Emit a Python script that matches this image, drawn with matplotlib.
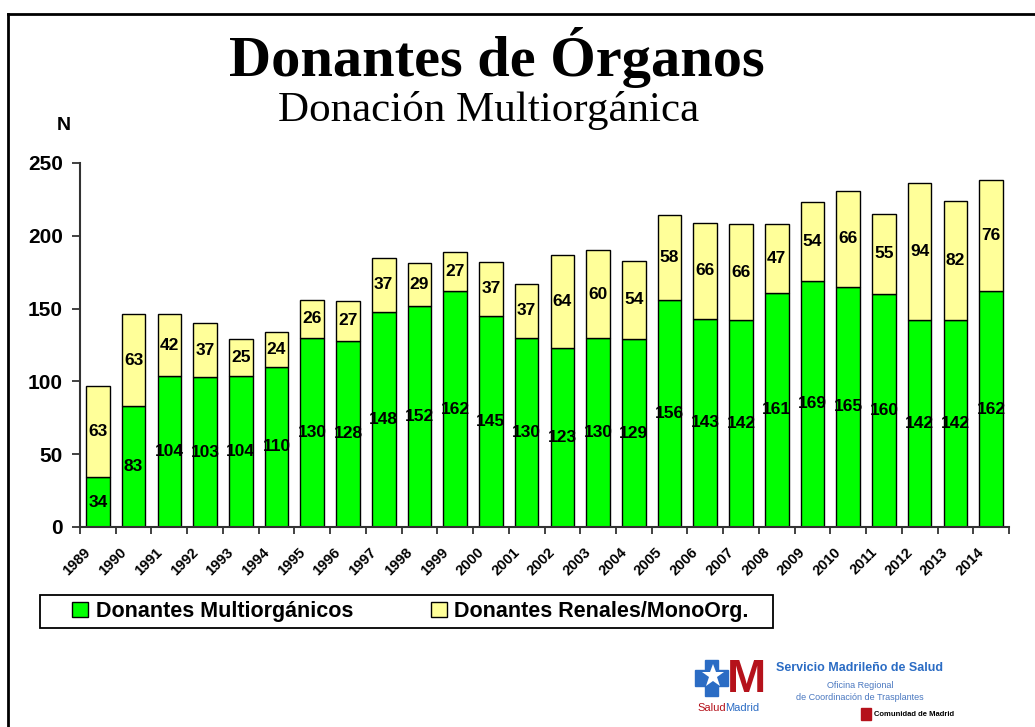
import matplotlib
matplotlib.use("Agg")
import matplotlib.pyplot as plt
import numpy as np
from matplotlib.lines import Line2D
from matplotlib.patches import Rectangle

years = [str(y) for y in range(1989, 2015)]
multi = [34, 83, 104, 103, 104, 110, 130, 128, 148, 152, 162, 145, 130, 123,
         130, 129, 156, 143, 142, 161, 169, 165, 160, 142, 142, 162]
renal = [63, 63, 42, 37, 25, 24, 26, 27, 37, 29, 27, 37, 37, 64,
         60, 54, 58, 66, 66, 47, 54, 66, 55, 94, 82, 76]
yticks = [0, 50, 100, 150, 200, 250]
series_names = ["Donantes Multiorgánicos", "Donantes Renales/MonoOrg."]

GREEN = "#00FF00"
YELLOW = "#FFFF99"
SANS = "Liberation Sans"
SERIF = "Liberation Serif"
W, H = 1035, 727


def fx(px):
    return px / W


def fy(py):
    return 1 - py / H


fig = plt.figure(figsize=(W / 100, H / 100), dpi=100)
ax = fig.add_axes([fx(80), fy(527), (1009 - 80) / W, (527 - 163) / H])

x = np.arange(len(years))
b1 = ax.bar(x, multi, width=0.66, color=GREEN, edgecolor="black", linewidth=1.0,
            label=series_names[0])
b2 = ax.bar(x, renal, width=0.66, bottom=multi, color=YELLOW, edgecolor="black",
            linewidth=1.0, label=series_names[1])

for xi, m, r in zip(x, multi, renal):
    ax.text(xi, m / 2, str(m), ha="center", va="center", fontsize=12.5,
            fontweight="bold", family=SANS)
    ax.text(xi, m + r / 2, str(r), ha="center", va="center", fontsize=12.5,
            fontweight="bold", family=SANS)

ax.set_xlim(-0.5, len(years) - 0.5)
ax.set_ylim(0, 250)
ax.set_yticks(yticks)
ax.set_yticklabels([str(v) for v in yticks], fontsize=15, fontweight="bold", family=SANS)
ax.tick_params(axis="y", direction="out", length=5.5, width=1.3, pad=7, color="#333333")

ax.set_xticks(x - 0.4)
ax.set_xticklabels(years, rotation=45, ha="right", va="top", rotation_mode="anchor",
                   fontsize=10.5, fontweight="bold", family=SANS)
ax.tick_params(axis="x", which="major", length=0, pad=13)
ax.set_xticks(np.arange(len(years) + 1) - 0.5, minor=True)
ax.tick_params(axis="x", which="minor", direction="out", length=5, width=1.3,
               color="#333333")

for s in ["top", "right"]:
    ax.spines[s].set_visible(False)
for s in ["left", "bottom"]:
    ax.spines[s].set_linewidth(1.5)
    ax.spines[s].set_color("#333333")

# Titles
fig.text(fx(497), fy(57), "Donantes de Órganos", ha="center", va="center",
         fontsize=42, fontweight="bold", family=SERIF)
fig.text(fx(489), fy(110), "Donación Multiorgánica", ha="center", va="center",
         fontsize=31, family=SERIF)
fig.text(fx(64), fy(125), "N", ha="center", va="center", fontsize=14,
         fontweight="bold", family=SANS)

# Legend (frame drawn separately to match the reference box)
fig.add_artist(Rectangle((fx(40), fy(628)), (773 - 40) / W, 33 / H, fill=False,
                         edgecolor="black", linewidth=1.3, transform=fig.transFigure))
leg = fig.legend(handles=[b1, b2], labels=series_names, loc="center left", ncol=2,
                 bbox_to_anchor=(fx(72), fy(611.5)), frameon=False,
                 prop={"family": SANS, "weight": "bold", "size": 15.5},
                 handlelength=0.75, handleheight=0.75, handletextpad=0.35,
                 columnspacing=3.6, borderpad=0, borderaxespad=0)

# Figure border (top and left)
fig.add_artist(Line2D([fx(8), fx(8)], [0, fy(14)], color="black", lw=2,
                      transform=fig.transFigure))
fig.add_artist(Line2D([fx(8), 1], [fy(14), fy(14)], color="black", lw=2,
                      transform=fig.transFigure))

# Logo block
BLUE = "#2B6CC4"
RED = "#B5121B"
fig.add_artist(Rectangle((fx(705), fy(696)), 13 / W, 36 / H, color=BLUE,
                         transform=fig.transFigure))
fig.add_artist(Rectangle((fx(695), fy(686)), 33 / W, 16 / H, color=BLUE,
                         transform=fig.transFigure))
fig.add_artist(Line2D([fx(713)], [fy(676)], marker="*", markersize=17, color="white",
                      markeredgewidth=0, transform=fig.transFigure))
fig.text(fx(746), fy(692), "M", ha="center", va="baseline", fontsize=34,
         fontweight="bold", color=RED, family=SANS)
fig.text(fx(697), fy(708), "Salud", ha="left", va="center", fontsize=8,
         color=RED, family=SANS)
fig.text(fx(725), fy(708), "Madrid", ha="left", va="center", fontsize=8,
         color=BLUE, family=SANS)
fig.text(fx(860), fy(668), "Servicio Madrileño de Salud", ha="center", va="center",
         fontsize=9, fontweight="bold", color=BLUE, family=SANS)
fig.text(fx(860), fy(685), "Oficina Regional", ha="center", va="center",
         fontsize=6.5, color="#4a78c0", family=SANS)
fig.text(fx(860), fy(697), "de Coordinación de Trasplantes", ha="center", va="center",
         fontsize=6.5, color="#4a78c0", family=SANS)
fig.add_artist(Rectangle((fx(861), fy(720)), 10 / W, 12 / H, color=RED,
                         transform=fig.transFigure))
fig.text(fx(874), fy(714), "Comunidad de Madrid", ha="left", va="center",
         fontsize=5.5, fontweight="bold", color="black", family=SANS)

fig.savefig("out.png", dpi=100)
